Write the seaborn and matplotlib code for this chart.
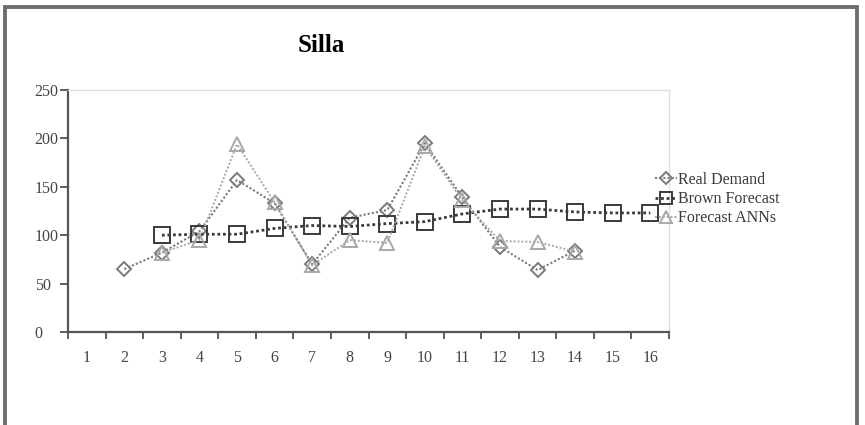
import numpy as np
import pandas as pd
import matplotlib
matplotlib.use("Agg")
import matplotlib.pyplot as plt
import seaborn as sns
from matplotlib.patches import Rectangle
from matplotlib.ticker import FixedLocator

periods = list(range(1, 17))
real_x = [2, 3, 4, 5, 6, 7, 8, 9, 10, 11, 12, 13, 14]
real_demand = [65, 82, 104, 157, 133, 70, 118, 126, 195, 139, 88, 64, 84]
brown_x = [3, 4, 5, 6, 7, 8, 9, 10, 11, 12, 13, 14, 15, 16]
brown_forecast = [100, 101, 101, 107, 110, 109, 112, 114, 122, 127, 127, 124, 123, 123]
ann_x = [3, 4, 5, 6, 7, 8, 9, 10, 11, 12, 13, 14]
ann_forecast = [82, 95, 194, 134, 69, 95, 92, 192, 136, 94, 93, 83]
y_ticks = [0, 50, 100, 150, 200, 250]

sns.set_theme(style="white")
plt.rcParams['font.family'] = ['Liberation Serif', 'DejaVu Serif']

fig = plt.figure(figsize=(8.65, 4.25), dpi=100)
ax = fig.add_axes([68/865, 1-332/425, 601/865, 242/425])

styles = [
    ("Real Demand", real_x, real_demand, "D", 7, "#7a7a7a", 1.5),
    ("Brown Forecast", brown_x, brown_forecast, "s", 11, "#3a3a3a", 2.0),
    ("Forecast ANNs", ann_x, ann_forecast, "^", 10, "#a8a8a8", 1.4),
]
for name, xs, ys, mk, ms, col, lw in styles:
    df = pd.DataFrame({"x": xs, "y": ys})
    sns.lineplot(data=df, x="x", y="y", ax=ax, color=col, linewidth=lw,
                 linestyle=(0, (1, 1.0)), marker=mk, markersize=ms,
                 markerfacecolor="none", markeredgecolor=col,
                 markeredgewidth=1.4, label=name)

ax.set_xlim(0.5, 16.5)
ax.set_ylim(0, 250)
ax.set_xticks(periods)
ax.set_xticklabels([str(p) for p in periods])
ax.xaxis.set_minor_locator(FixedLocator(np.arange(0.5, 17, 1)))
ax.tick_params(axis="x", which="major", length=0, pad=13, labelsize=11.5, labelcolor="#444444")
ax.tick_params(axis="x", which="minor", length=5, width=1.2, color="#444444", direction="out", bottom=True)
ax.set_yticks(y_ticks)
ax.tick_params(axis="y", length=5.5, width=1.2, color="#444444", direction="out", left=True,
               labelsize=11.5, labelcolor="#444444", pad=18.5)
for lab in ax.get_yticklabels():
    lab.set_horizontalalignment("left")
ax.set_xlabel("")
ax.set_ylabel("")
for s in ["left", "bottom"]:
    ax.spines[s].set_color("#555555")
    ax.spines[s].set_linewidth(1.6)
for s in ["top", "right"]:
    ax.spines[s].set_color("#dddddd")
    ax.spines[s].set_linewidth(1.0)

leg = ax.legend(loc="upper left", bbox_to_anchor=(587/601, (332-172)/242), frameon=False,
                fontsize=11.5, handlelength=1.4, handletextpad=0.05, labelspacing=0.2,
                borderaxespad=0, borderpad=0, markerscale=0.85)
for t in leg.get_texts():
    t.set_color("#3a3a3a")

fig.text(321/865, 1-45/425, "Silla", ha="center", va="center", fontsize=18,
         fontweight="bold", color="black")

fig.patches.append(Rectangle((5/865, -0.05), 852/865, 1.05-7/425, transform=fig.transFigure,
                             fill=False, edgecolor="#6e6e6e", linewidth=2.8))

fig.savefig("out.png", dpi=100, facecolor="white")
